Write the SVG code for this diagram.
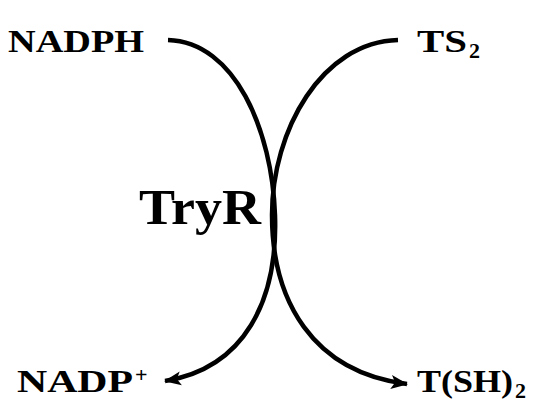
<svg xmlns="http://www.w3.org/2000/svg" width="544" height="407" viewBox="0 0 544 407">
<style>
.t{font-family:"Liberation Serif","DejaVu Serif",serif;font-weight:bold;fill:#000}
.c{fill:none;stroke:#000;stroke-width:4.5;stroke-linecap:butt}
</style>
<defs>
<marker id="ah" markerUnits="userSpaceOnUse" markerWidth="20" markerHeight="16" refX="16" refY="8" orient="auto" viewBox="0 0 20 16">
<path d="M0,1 L17,8 L0,15 L4,8 z" fill="#000"/>
</marker>
</defs>
<rect width="544" height="407" fill="#fff"/>
<g id="connectors">
<path class="c" d="M168,40 C235,42 272,130 275,215 C278,300 245,368 165,381" marker-end="url(#ah)"/>
<path class="c" d="M398,40 C322,42 272,130 272,215 C272,300 312,372 407,384" marker-end="url(#ah)"/>
</g>
<g id="nadph"><text class="t" x="8" y="52" font-size="32" textLength="136" lengthAdjust="spacingAndGlyphs">NADPH</text></g>
<g id="ts2"><text class="t" y="52" font-size="32"><tspan x="417" textLength="50" lengthAdjust="spacingAndGlyphs">TS</tspan><tspan x="469" font-size="22" dy="6">2</tspan></text></g>
<g id="tryr"><text class="t" x="139" y="224" font-size="50" textLength="122" lengthAdjust="spacingAndGlyphs">TryR</text></g>
<g id="nadpplus"><text class="t" y="392" font-size="32"><tspan x="17" textLength="116" lengthAdjust="spacingAndGlyphs">NADP</tspan><tspan x="135" font-size="22" dy="-10">+</tspan></text></g>
<g id="tsh2"><text class="t" y="392" font-size="32"><tspan x="417" textLength="96" lengthAdjust="spacingAndGlyphs">T(SH)</tspan><tspan x="515" font-size="22" dy="6">2</tspan></text></g>
</svg>
